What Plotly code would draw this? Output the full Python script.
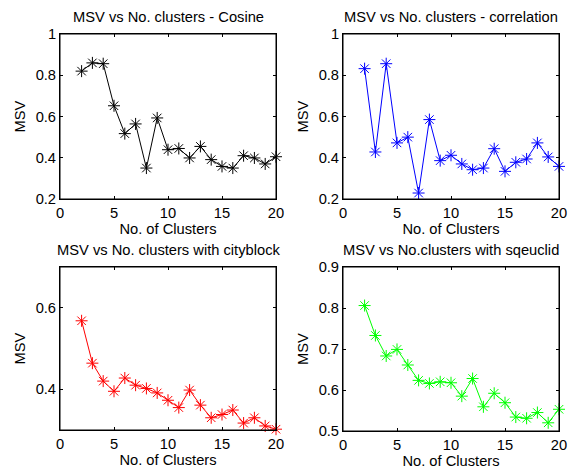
import plotly.graph_objects as go

clusters = list(range(2, 21))

msv_cosine = [0.82, 0.86, 0.856, 0.652, 0.517, 0.564, 0.35, 0.593, 0.439, 0.445,
              0.399, 0.455, 0.391, 0.358, 0.35, 0.41, 0.399, 0.37, 0.405]
msv_correlation = [0.832, 0.428, 0.856, 0.472, 0.50, 0.229, 0.585, 0.386, 0.412, 0.37,
                   0.342, 0.35, 0.444, 0.334, 0.378, 0.394, 0.472, 0.404, 0.358]
msv_cityblock = [0.568, 0.464, 0.42, 0.395, 0.4275, 0.41, 0.402, 0.391, 0.373, 0.355,
                 0.398, 0.361, 0.330, 0.338, 0.349, 0.317, 0.330, 0.310, 0.302]
msv_sqeuclid = [0.806, 0.733, 0.683, 0.699, 0.661, 0.6235, 0.616, 0.62, 0.6176, 0.585,
                0.628, 0.559, 0.592, 0.569, 0.534, 0.531, 0.545, 0.52, 0.553]

titles = ["MSV vs No. clusters - Cosine", "MSV vs No. clusters - correlation",
          "MSV vs No. clusters with cityblock", "MSV vs No.clusters with sqeuclid"]
series = [msv_cosine, msv_correlation, msv_cityblock, msv_sqeuclid]
colors = ["#000000", "#0000ff", "#ff0000", "#00ff00"]
y_ranges = [[0.2, 1.0], [0.2, 1.0], [0.3, 0.7], [0.5, 0.9]]
y_ticks = [[0.2, 0.4, 0.6, 0.8, 1.0], [0.2, 0.4, 0.6, 0.8, 1.0], [0.4, 0.6],
           [0.5, 0.6, 0.7, 0.8, 0.9]]
y_ticktext = [["0.2", "0.4", "0.6", "0.8", "1"], ["0.2", "0.4", "0.6", "0.8", "1"],
              ["0.4", "0.6"], ["0.5", "0.6", "0.7", "0.8", "0.9"]]
x_ticks = [0, 5, 10, 15, 20]

W, H = 573, 471
# pixel boxes (left, right, top, bottom)
boxes = [(60, 276, 34, 199), (343, 559, 34, 199), (60, 276, 267, 430), (343, 559, 267, 431)]

FONT = "Liberation Sans, Arial, sans-serif"
FS = 14.7
fig = go.Figure()
layout = dict(template="none", width=W, height=H, autosize=False,
              margin=dict(l=0, r=0, t=0, b=0, pad=0),
              paper_bgcolor="white", plot_bgcolor="white", showlegend=False,
              font=dict(family=FONT, size=FS, color="black"))
annotations = []
shapes = []
for i in range(4):
    n = "" if i == 0 else str(i + 1)
    l, r, t, b = boxes[i]
    fig.add_trace(go.Scatter(
        x=clusters, y=series[i], mode="lines+markers", cliponaxis=False,
        line=dict(color=colors[i], width=1),
        marker=dict(symbol="asterisk-open", size=10, color=colors[i],
                    line=dict(color=colors[i], width=1)),
        xaxis="x" + n, yaxis="y" + n))
    axcommon = dict(showgrid=False, zeroline=False, showline=True, linecolor="black",
                    linewidth=1, mirror="ticks", ticks="inside", ticklen=3,
                    automargin=False,
                    tickcolor="black", tickfont=dict(family=FONT, size=FS, color="black"))
    layout["xaxis" + n] = dict(axcommon, domain=[l / W, r / W], range=[0, 20],
                               tickvals=x_ticks, anchor="y" + n,
                               title=dict(text="No. of Clusters", standoff=2,
                                          font=dict(family=FONT, size=FS)))
    layout["yaxis" + n] = dict(axcommon, domain=[1 - b / H, 1 - t / H], range=y_ranges[i],
                               tickvals=y_ticks[i], ticktext=y_ticktext[i], anchor="x" + n,
                               title=dict(text="MSV", standoff=6,
                                          font=dict(family=FONT, size=FS)))
    annotations.append(dict(text=titles[i], x=(l + r) / 2 / W, y=1 - (t - 7) / H,
                            xref="paper", yref="paper", xanchor="center", yanchor="bottom",
                            showarrow=False, font=dict(family=FONT, size=FS, color="black")))
    shapes.append(dict(type="rect", xref="x" + n + " domain", yref="y" + n + " domain",
                       x0=0, x1=1, y0=0, y1=1, line=dict(color="black", width=1),
                       fillcolor="rgba(0,0,0,0)", layer="above"))
layout["annotations"] = annotations
layout["shapes"] = shapes
fig.update_layout(**layout)
fig.write_html(
    "out.html",
    config={"displayModeBar": False},
    post_script=("document.documentElement.style.margin='0';"
                 "document.body.style.margin='0';document.body.style.padding='0';"
                 "document.body.style.overflow='hidden';"
                 "var d=document.getElementById('{plot_id}');"
                 "d.style.position='fixed';d.style.left='0px';d.style.top='0px';"))
